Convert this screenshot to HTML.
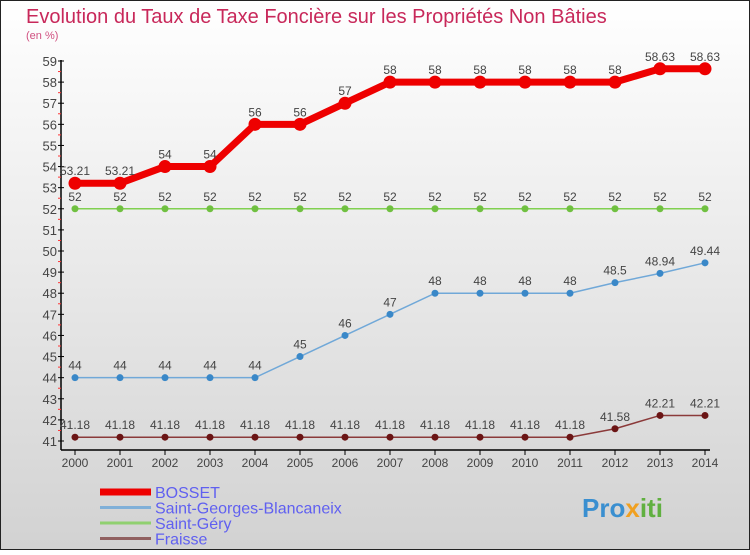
<!DOCTYPE html>
<html><head><meta charset="utf-8"><style>
body{margin:0}
#c{width:750px;height:550px;position:relative;font-family:"Liberation Sans",sans-serif}
</style></head><body>
<div id="c">
<svg width="750" height="550" id="svg">
<defs><linearGradient id="bg" x1="0" y1="0" x2="0" y2="1"><stop offset="0" stop-color="#ffffff"/><stop offset="1" stop-color="#d2d2d2"/></linearGradient></defs>
<rect x="0.5" y="0.5" width="749" height="549" fill="url(#bg)" stroke="#222"/>
<text x="26" y="23" font-size="20" fill="#c8285a">Evolution du Taux de Taxe Foncière sur les Propriétés Non Bâties</text>
<text x="26" y="39" font-size="11" fill="#d05080">(en %)</text>
<g id="axes"></g><g id="series"></g><g id="legend"></g>
<text x="582" y="517" font-size="26" font-weight="bold" fill="#3a8fd0">Pro<tspan fill="#f0a020">x</tspan><tspan fill="#60b040">iti</tspan></text>
</svg></div>
<script>
const years=[2000,2001,2002,2003,2004,2005,2006,2007,2008,2009,2010,2011,2012,2013,2014];
const bosset=[53.21,53.21,54,54,56,56,57,58,58,58,58,58,58,58.63,58.63];
const bossetLabels=["53.21","53.21","54","54","56","56","57","58","58","58","58","58","58","58.63","58.63"];
const sgb=[44,44,44,44,44,45,46,47,48,48,48,48,48.5,48.94,49.44];
const sgbLabels=["44","44","44","44","44","45","46","47","48","48","48","48","48.5","48.94","49.44"];
const sgery=[52,52,52,52,52,52,52,52,52,52,52,52,52,52,52];
const sgeryLabels=["52","52","52","52","52","52","52","52","52","52","52","52","52","52","52"];
const fraisse=[41.18,41.18,41.18,41.18,41.18,41.18,41.18,41.18,41.18,41.18,41.18,41.18,41.58,42.21,42.21];
const fraisseLabels=["41.18","41.18","41.18","41.18","41.18","41.18","41.18","41.18","41.18","41.18","41.18","41.18","41.58","42.21","42.21"];
const yTicks=[41,42,43,44,45,46,47,48,49,50,51,52,53,54,55,56,57,58,59];
const NS="http://www.w3.org/2000/svg";
const X=i=>75+i*45;
const Y=v=>441-(v-41)*(380/18);
function mk(t,a,p){const e=document.createElementNS(NS,t);for(const k in a)e.setAttribute(k,a[k]);p.appendChild(e);return e;}
const ax=document.getElementById('axes');
const yl=mk('line',{x1:61,y1:60,x2:61,y2:450,stroke:'#000','stroke-width':1.5},ax);


const xl=mk('line',{x1:61,y1:450,x2:710,y2:450,stroke:'#000','stroke-width':1.5},ax);


yTicks.forEach(v=>{
 mk('line',{x1:58,y1:Y(v),x2:64,y2:Y(v),stroke:'#000'},ax);
 if(v<59)mk('line',{x1:58,y1:Y(v+0.5),x2:61,y2:Y(v+0.5),stroke:'#f33'},ax);
 const t=mk('text',{x:57,y:Y(v)+5,'font-size':13,fill:'#444','text-anchor':'end'},ax);t.textContent=v;
 
 
});
years.forEach((y,i)=>{
 mk('line',{x1:X(i),y1:450,x2:X(i),y2:455,stroke:'#000'},ax);
 const t=mk('text',{x:X(i),y:467,'font-size':12,fill:'#444','text-anchor':'middle'},ax);t.textContent=y;
 
 
});
const sg=document.getElementById('series');
function series(name,vals,labs,color,w,r,dot){
 const g=mk('g',{},sg);
 
 
 mk('polyline',{points:vals.map((v,i)=>X(i)+','+Y(v)).join(' '),fill:'none',stroke:color,'stroke-width':w},g);
 vals.forEach((v,i)=>{
  const c=mk('circle',{cx:X(i),cy:Y(v),r:r,fill:dot},g);
  
  
  const t=mk('text',{x:X(i),y:Y(v)-8,'font-size':12,fill:'#444','text-anchor':'middle'},g);t.textContent=labs[i];
  
  
 });
}
series('series-fraisse',fraisse,fraisseLabels,'#8b3a3a',1.5,3.5,'#6b1515');
series('series-saint-gery',sgery,sgeryLabels,'#80d050',1.5,3.5,'#70c040');
series('series-saint-georges',sgb,sgbLabels,'#70a8d8',1.5,3.5,'#3a88c8');
series('series-bosset',bosset,bossetLabels,'#ee0000',7,6.5,'#ee0000');
const lg=document.getElementById('legend');
[['BOSSET','#ee0000',7],['Saint-Georges-Blancaneix','#80b0d8',3],['Saint-Géry','#90d070',3],['Fraisse','#906060',3]].forEach((e,i)=>{
 const y=492+i*15.5;
 const g=mk('g',{},lg);
 
 
 mk('line',{x1:100,y1:y,x2:151,y2:y,stroke:e[1],'stroke-width':e[2]},g);
 const t=mk('text',{x:155,y:y+6,'font-size':16,fill:'#6060f0'},g);t.textContent=e[0];
});
</script>
</body></html>
